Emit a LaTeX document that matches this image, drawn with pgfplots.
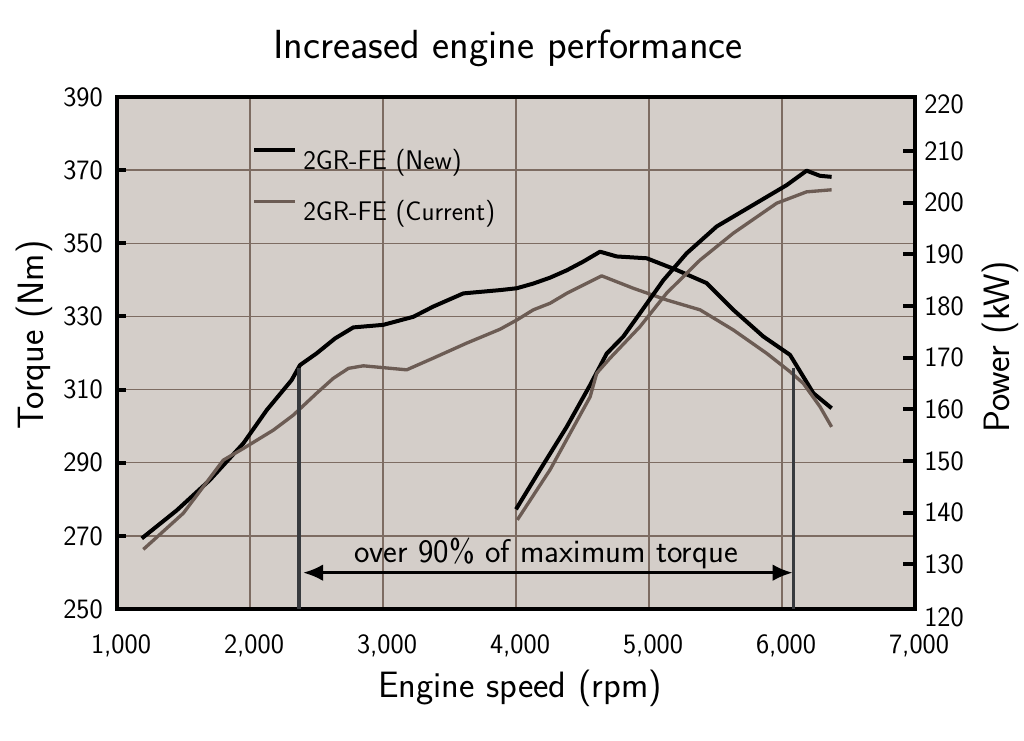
\documentclass[border=0pt]{standalone}
\usepackage{pgfplots}
\pgfplotsset{compat=1.18}
\usetikzlibrary{arrows.meta}
\renewcommand{\familydefault}{\sfdefault}
\definecolor{bgc}{RGB}{212,206,201}
\definecolor{gridc}{RGB}{125,108,98}
\definecolor{curc}{RGB}{108,92,84}
\definecolor{vlc}{RGB}{55,58,62}
\newcommand{\ticksize}{\fontsize{21}{24}\selectfont}
\newcommand{\labsize}{\fontsize{27.5}{32}\selectfont}
\newcommand{\titsize}{\fontsize{30.5}{36}\selectfont}
\newcommand{\legsize}{\fontsize{20.2}{24}\selectfont}
\newcommand{\annsize}{\fontsize{24.6}{29}\selectfont}
\begin{document}
\begin{tikzpicture}
\path[use as bounding box, fill=white] (-87.75pt,-98.25pt) rectangle (680.25pt,456.75pt);
\begin{axis}[
  at={(0pt,0pt)}, anchor=south west,
  scale only axis, width=598.5pt, height=384pt,
  xmin=1000, xmax=7000, ymin=250, ymax=390,
  xtick={1000,2000,3000,4000,5000,6000,7000},
  xticklabels={{1,000},{2,000},{3,000},{4,000},{5,000},{6,000},{7,000}},
  ytick={250,270,290,310,330,350,370,390},
  ytick pos=left,
  xtick style={draw=none},
  tick align=inside,
  major tick length=7pt,
  ytick style={line width=3pt, black},
  grid=major,
  major grid style={line width=1.1pt, color=gridc},
  axis line style={line width=3pt, black},
  axis background/.style={fill=bgc},
  /pgf/number format/assume math mode=true,
  xticklabel style={font=\ticksize, inner sep=0pt, anchor=north, yshift=-19pt, xshift=3pt},
  yticklabel style={font=\ticksize, inner sep=0pt, anchor=east, xshift=-10.5pt},
  xlabel={Engine speed (rpm)},
  xlabel style={font=\labsize, at={(axis description cs:0.505,-0.172)}, anchor=base, inner sep=0pt},
  ylabel={Torque (Nm)},
  ylabel style={font=\labsize, at={(axis description cs:-0.0927,0.535)}, anchor=base, inner sep=0pt},
  title={Increased engine performance},
  title style={font=\titsize, at={(axis description cs:0.49,1.0605)}, anchor=base, yshift=0pt, inner sep=0pt},
  legend style={draw=none, fill=none, at={(axis description cs:0.1692,0.9004)}, anchor=north west,
    font=\legsize, inner sep=0pt, row sep=21.5pt, column sep=4.5pt, nodes={inner sep=0pt}},
  legend cell align=left,
  legend image code/.code={\draw[#1] (0pt,7.5pt) -- (30.75pt,7.5pt);},
]
% Torque, 2GR-FE (New)
\addplot[line width=3pt, black, line join=round] coordinates {
(1186,269.3) (1450,277.0) (1699,285.3) (1950,295.3) (2126,304.4) (2313,312.6)
(2376,316.7) (2501,319.9) (2640,324.0) (2777,327.0) (3002,327.7) (3228,329.9)
(3378,332.7) (3604,336.3) (3880,337.2) (4005,337.7) (4131,339.0) (4256,340.6)
(4381,342.6) (4506,345.0) (4632,347.7) (4757,346.4) (4983,345.9) (5208,342.7)
(5434,339.1) (5634,331.8) (5860,324.5) (6060,319.5) (6236,309.0) (6373,304.9)
};
% Torque, 2GR-FE (Current)
\addplot[line width=2.5pt, curc, line join=round] coordinates {
(1198,266.3) (1499,276.2) (1799,290.7) (1950,293.9) (2175,298.9) (2325,303.0)
(2501,309.0) (2627,313.1) (2740,315.8) (2852,316.5) (3178,315.4) (3378,318.6)
(3629,322.7) (3880,326.5) (4005,329.0) (4130,331.8) (4256,333.6) (4381,336.3)
(4644,341.1) (4882,337.7) (5133,334.5) (5384,331.8) (5634,326.3) (5885,319.9)
(6060,314.9) (6160,311.7) (6286,305.3) (6373,299.8)
};
\legend{2GR-FE (New),2GR-FE (Current)}
% 90% band markers
\addplot[line width=2.5pt, vlc, forget plot] coordinates {(2368,250) (2368,315.9)};
\addplot[line width=2.5pt, vlc, forget plot] coordinates {(6085,250) (6085,315.9)};
\addplot[line width=2.25pt, black, forget plot,
  {Latex[length=15pt,width=12.5pt]}-{Latex[length=15pt,width=12.5pt]}]
  coordinates {(2399,259.93) (6080,259.93)};
\node[anchor=base, font=\annsize, inner sep=0pt] at (axis cs:4226,262.6) {over 90\% of maximum torque};
\end{axis}
\begin{axis}[
  at={(0pt,0pt)}, anchor=south west,
  scale only axis, width=598.5pt, height=384pt,
  xmin=1000, xmax=7000, ymin=121.35, ymax=220.46,
  axis x line=none, axis y line*=right,
  ytick={130,140,150,160,170,180,190,200,210},
  tick align=inside,
  major tick length=9pt,
  ytick style={line width=3pt, black},
  axis line style={line width=3pt, black},
  /pgf/number format/assume math mode=true,
  yticklabel style={font=\ticksize, inner sep=0pt, anchor=west, xshift=6.75pt},
  ylabel={Power (kW)},
  ylabel style={font=\labsize, at={(axis description cs:1.119,0.512)}, anchor=base, inner sep=0pt},
  clip=false,
]
% Power, 2GR-FE (New)
\addplot[line width=3pt, black, line join=round] coordinates {
(4000,140.65) (4181,148.3) (4381,156.6) (4557,164.7) (4682,170.8) (4807,174.1)
(4932,178.6) (5108,185.0) (5283,190.2) (5509,195.4) (5759,199.2) (6035,203.4)
(6185,206.2) (6286,205.2) (6373,205.0)
};
% Power, 2GR-FE (Current)
\addplot[line width=2.5pt, curc, line join=round] coordinates {
(4010,138.6) (4256,148.3) (4557,162.4) (4607,167.0) (4707,169.9) (4932,176.0)
(5133,182.5) (5384,188.9) (5634,194.1) (5960,199.9) (6185,202.1) (6373,202.5)
};
\node[anchor=west, font=\ticksize, inner sep=0pt, xshift=6.75pt] at (axis cs:7000,119.8) {120};
\node[anchor=west, font=\ticksize, inner sep=0pt, xshift=6.75pt] at (axis cs:7000,219.1) {220};
\end{axis}
\end{tikzpicture}
\end{document}
